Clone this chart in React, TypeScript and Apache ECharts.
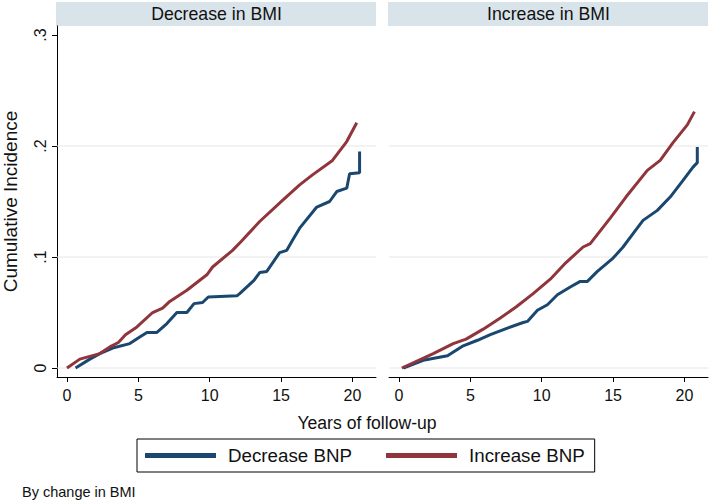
import React, { useEffect, useRef } from "react";
import * as echarts from "echarts";

const panelTitles = ["Decrease in BMI", "Increase in BMI"];
const seriesNames = ["Decrease BNP", "Increase BNP"];
const seriesColors = ["#1a476f", "#90353b"];
const xTicks = [0, 5, 10, 15, 20];
const yTicks = [0, 0.1, 0.2, 0.3];
const yTickLabels = ["0", ".1", ".2", ".3"];
const yGridValues = [0, 0.1, 0.2];
const xRange = [-0.7, 21.65];
const yRange = [-0.0081, 0.3081];

const leftDecrease = [[0.6,0],[1.6,0.008],[2.3,0.013],[3.2,0.018],[4.4,0.022],[5.1,0.028],[5.6,0.032],[6.3,0.032],[7.0,0.040],[7.7,0.050],[8.4,0.050],[8.9,0.058],[9.5,0.059],[9.9,0.064],[11.9,0.065],[12.1,0.067],[13.1,0.079],[13.5,0.086],[14.0,0.087],[14.9,0.104],[15.4,0.106],[15.8,0.115],[16.3,0.126],[17.5,0.145],[18.4,0.150],[18.9,0.159],[19.6,0.162],[19.8,0.175],[20.5,0.176],[20.5,0.195]];
const leftIncrease = [[0,0],[0.9,0.008],[2.3,0.013],[3.0,0.019],[3.6,0.023],[4.1,0.030],[4.9,0.037],[6.0,0.050],[6.7,0.054],[7.2,0.060],[8.4,0.070],[9.8,0.084],[10.2,0.091],[11.6,0.106],[12.2,0.114],[13.5,0.132],[15.1,0.151],[16.3,0.165],[17.2,0.174],[18.6,0.187],[19.6,0.204],[20.3,0.221]];
const rightDecrease = [[0.3,0],[1.7,0.007],[3.4,0.011],[4.5,0.020],[5.5,0.025],[6.4,0.030],[7.6,0.036],[8.7,0.041],[9.0,0.042],[9.7,0.052],[10.4,0.057],[11.1,0.066],[12.0,0.073],[12.7,0.078],[13.2,0.078],[13.9,0.087],[15.0,0.099],[15.7,0.109],[16.4,0.121],[17.1,0.133],[18.1,0.142],[19.0,0.154],[19.9,0.169],[20.6,0.181],[20.9,0.185],[20.9,0.199]];
const rightIncrease = [[0.2,0],[2.4,0.013],[3.8,0.022],[4.7,0.026],[5.9,0.035],[7.1,0.045],[8.2,0.055],[9.4,0.067],[10.6,0.080],[11.7,0.095],[12.9,0.109],[13.4,0.112],[14.8,0.135],[15.9,0.154],[17.4,0.178],[18.3,0.187],[19.2,0.203],[20.2,0.219],[20.7,0.231]];

const panelData = [
  [leftDecrease, leftIncrease],
  [rightDecrease, rightIncrease],
];

const FONT = "'Liberation Sans', Arial, sans-serif";

export default function App() {
  const ref = useRef<HTMLDivElement>(null);
  useEffect(() => {
    document.body.style.margin = "0";
    const chart = echarts.init(ref.current!, null, { renderer: "svg" });
    const grids = [
      { left: 57, top: 26, width: 319, height: 351 },
      { left: 389, top: 26, width: 319, height: 351 },
    ];
    const xAxes = grids.map((_, i) => ({
      type: "value",
      gridIndex: i,
      min: xRange[0],
      max: xRange[1],
      axisLine: { show: true, onZero: false, lineStyle: { color: "#000", width: 1 } },
      axisTick: { show: true, length: 5, customValues: xTicks, lineStyle: { color: "#000" } },
      axisLabel: { customValues: xTicks, fontSize: 16, color: "#111", fontFamily: FONT, margin: 10 },
      splitLine: { show: false },
    }));
    const yAxes = grids.map((_, i) => ({
      type: "value",
      gridIndex: i,
      min: yRange[0],
      max: yRange[1],
      name: i === 0 ? "Cumulative Incidence" : "",
      nameLocation: "middle",
      nameGap: 37,
      nameRotate: 90,
      nameTextStyle: { fontSize: 19, color: "#111", fontFamily: FONT },
      axisLine: { show: i === 0, onZero: false, lineStyle: { color: "#000", width: 1 } },
      axisTick: { show: i === 0, length: 5, customValues: yTicks, lineStyle: { color: "#000" } },
      axisLabel: {
        show: i === 0,
        customValues: yTicks,
        rotate: 90,
        fontSize: 16,
        color: "#111",
        fontFamily: FONT,
        margin: 9,
        formatter: (v: number) => {
          const idx = yTicks.findIndex((t) => Math.abs(t - v) < 1e-9);
          return idx >= 0 ? yTickLabels[idx] : "";
        },
      },
      splitLine: { show: false },
    }));
    const series: any[] = [];
    grids.forEach((_, gi) => {
      yGridValues.forEach((yv) => {
        series.push({
          type: "line",
          name: "grid",
          xAxisIndex: gi,
          yAxisIndex: gi,
          data: [[xRange[0], yv], [xRange[1], yv]],
          showSymbol: false,
          silent: true,
          z: 1,
          lineStyle: { color: "#e6e6e6", width: 1 },
        });
      });
      panelData[gi].forEach((d, si) => {
        series.push({
          type: "line",
          name: seriesNames[si],
          xAxisIndex: gi,
          yAxisIndex: gi,
          data: d,
          showSymbol: false,
          z: 3,
          color: seriesColors[si],
          lineStyle: { color: seriesColors[si], width: 3 },
        });
      });
    });
    const graphic: any[] = [];
    grids.forEach((g, gi) => {
      graphic.push({
        type: "rect",
        shape: { x: g.left - 1, y: 2, width: g.width + 1, height: 24 },
        style: { fill: "#d9e3ea" },
        silent: true,
      });
      graphic.push({
        type: "text",
        x: g.left + g.width / 2,
        y: 14,
        style: {
          text: panelTitles[gi],
          fontSize: 17.7,
          fill: "#111",
          fontFamily: FONT,
          textAlign: "center",
          textVerticalAlign: "middle",
        },
      });
    });
    graphic.push({
      type: "text",
      x: 367,
      y: 423,
      style: {
        text: "Years of follow-up",
        fontSize: 17.6,
        fill: "#111",
        fontFamily: FONT,
        textAlign: "center",
        textVerticalAlign: "middle",
      },
    });
    graphic.push({
      type: "text",
      x: 22,
      y: 492,
      style: {
        text: "By change in BMI",
        fontSize: 14.5,
        fill: "#111",
        fontFamily: FONT,
        textAlign: "left",
        textVerticalAlign: "middle",
      },
    });
    chart.setOption({
      animation: false,
      backgroundColor: "#fff",
      grid: grids,
      xAxis: xAxes,
      yAxis: yAxes,
      series,
      graphic,
      legend: {
        data: seriesNames,
        left: 137,
        top: 439,
        padding: [7, 10, 7, 8],
        borderColor: "#000",
        borderWidth: 1,
        itemWidth: 71,
        itemHeight: 5,
        itemGap: 34,
        icon: "rect",
        textStyle: { fontSize: 18.75, color: "#111", fontFamily: FONT, padding: [0, 0, 0, 7] },
      },
    });
    return () => chart.dispose();
  }, []);
  return <div ref={ref} style={{ width: 709, height: 502 }} />;
}
